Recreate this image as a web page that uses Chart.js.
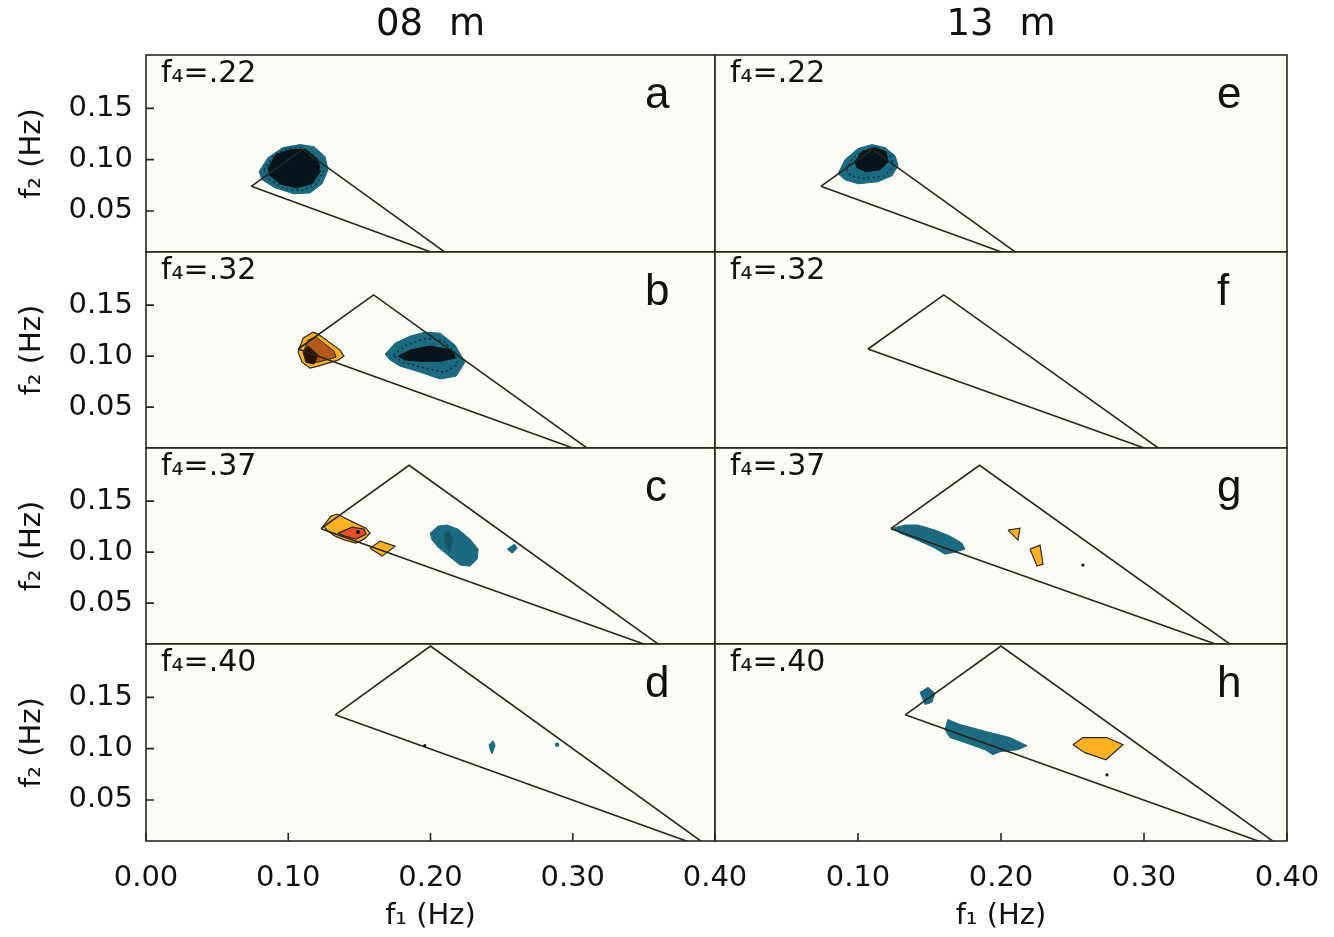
<!DOCTYPE html>
<html><head><meta charset="utf-8">
<script src="https://cdn.jsdelivr.net/npm/chart.js@4.4.0/dist/chart.umd.min.js"></script>
<style>
html,body{margin:0;padding:0;background:#fff;width:1334px;height:937px;overflow:hidden;position:relative}
canvas{position:absolute}
</style></head><body>
<script>
// ---------------- DATA ----------------
const columnTitles = ['08 m', '13 m'];
const f4Labels = ['f\u2084=.22', 'f\u2084=.32', 'f\u2084=.37', 'f\u2084=.40'];
const panelLetters = [['a', 'b', 'c', 'd'], ['e', 'f', 'g', 'h']];
const xTickValues = [0.00, 0.10, 0.20, 0.30, 0.40];
const yTickValues = [0.05, 0.10, 0.15];
const xAxisTitle = 'f\u2081 (Hz)';
const yAxisTitle = 'f\u2082 (Hz)';

// triangle outlines [f1, f2]
const triangle22 = [[0.074, 0.074], [0.110, 0.110], [0.220, 0.000]];
const triangle32 = [[0.107, 0.107], [0.160, 0.160], [0.320, 0.000]];
const triangle37 = [[0.123, 0.123], [0.185, 0.185], [0.370, 0.000]];
const triangle40 = [[0.133, 0.133], [0.200, 0.200], [0.400, 0.000]];

// panel a
const aTealOuter = [[0.0795,0.0882],[0.0858,0.1020],[0.0963,0.1118],[0.1083,0.1147],[0.1181,0.1127],[0.1259,0.1029],[0.1280,0.0902],[0.1238,0.0765],[0.1153,0.0676],[0.1041,0.0667],[0.0907,0.0725],[0.0816,0.0804]];
const aTealDotted = [[0.0830,0.0900],[0.0890,0.1030],[0.0990,0.1110],[0.1100,0.1120],[0.1200,0.1015],[0.1250,0.0890],[0.1200,0.0765],[0.1100,0.0700],[0.0980,0.0715],[0.0870,0.0800]];
const aDarkCore = [[0.0858,0.0922],[0.0914,0.1049],[0.1013,0.1098],[0.1125,0.1098],[0.1210,0.1000],[0.1224,0.0882],[0.1167,0.0765],[0.1055,0.0725],[0.0942,0.0765],[0.0872,0.0843]];
// panel b
const bWarmOuter = [[0.1069,0.1039],[0.1104,0.1176],[0.1174,0.1235],[0.1210,0.1216],[0.1364,0.1059],[0.1392,0.1000],[0.1350,0.0961],[0.1210,0.0902],[0.1153,0.0882],[0.1097,0.0941]];
const bWarmMid = [[0.1111,0.1059],[0.1139,0.1157],[0.1195,0.1186],[0.1322,0.1049],[0.1336,0.0990],[0.1210,0.0941],[0.1139,0.0941]];
const bWarmCore = [[0.1104,0.1039],[0.1139,0.1098],[0.1210,0.1010],[0.1181,0.0922],[0.1125,0.0941]];
const bTealOuter = [[0.1681,0.1020],[0.1751,0.1127],[0.1857,0.1196],[0.1962,0.1235],[0.2068,0.1225],[0.2173,0.1108],[0.2243,0.0941],[0.2180,0.0804],[0.2068,0.0775],[0.1927,0.0843],[0.1786,0.0902],[0.1716,0.0961]];
const bTealDotted = [[0.1740,0.1010],[0.1830,0.1110],[0.1960,0.1170],[0.2080,0.1160],[0.2170,0.1040],[0.2190,0.0920],[0.2100,0.0840],[0.1940,0.0890],[0.1800,0.0940]];
const bDarkCore = [[0.1772,0.1000],[0.1857,0.1059],[0.1997,0.1098],[0.2152,0.1059],[0.2173,0.0980],[0.2068,0.0950],[0.1927,0.0950],[0.1822,0.0961]];
// panel c
const cWarmOuter = [[0.1245,0.1255],[0.1301,0.1353],[0.1343,0.1373],[0.1456,0.1294],[0.1547,0.1235],[0.1575,0.1186],[0.1533,0.1127],[0.1477,0.1088],[0.1399,0.1118],[0.1329,0.1157],[0.1280,0.1206]];
const cWarmRed = [[0.1350,0.1186],[0.1449,0.1245],[0.1533,0.1225],[0.1547,0.1176],[0.1477,0.1127],[0.1399,0.1157]];
const cWarmDiamond = [[0.1575,0.1039],[0.1646,0.1108],[0.1751,0.1059],[0.1660,0.0961]];
const cTealOuter = [[0.1997,0.1186],[0.2053,0.1255],[0.2117,0.1265],[0.2194,0.1225],[0.2278,0.1127],[0.2335,0.1029],[0.2328,0.0931],[0.2278,0.0863],[0.2208,0.0873],[0.2138,0.0951],[0.2053,0.1049],[0.2011,0.1118]];
const cTealStreak = [[0.2100,0.1180],[0.2130,0.1215],[0.2155,0.1120],[0.2135,0.1000],[0.2105,0.1060]];
const cTealSmall = [[0.2540,0.1029],[0.2590,0.1078],[0.2610,0.1039],[0.2575,0.0990]];
const cDarkDots = [[0.1490,0.1196]];
// panel d
const dTealDrip = [[0.2412,0.1039],[0.2440,0.1078],[0.2454,0.1029],[0.2433,0.0951],[0.2419,0.0990]];
const dTealDots = [[0.2890,0.1039]];
const dDarkDots = [[0.1960,0.1030]];
// panel e
const eTealOuter = [[0.0860,0.0863],[0.0909,0.1000],[0.1000,0.1108],[0.1098,0.1147],[0.1189,0.1118],[0.1259,0.1039],[0.1280,0.0941],[0.1238,0.0843],[0.1140,0.0784],[0.1000,0.0765],[0.0909,0.0804]];
const eTealDotted = [[0.0920,0.0900],[0.0960,0.1010],[0.1040,0.1090],[0.1140,0.1110],[0.1230,0.1030],[0.1250,0.0930],[0.1180,0.0840],[0.1040,0.0815],[0.0950,0.0840]];
const eDarkCore = [[0.0979,0.0980],[0.1028,0.1078],[0.1119,0.1118],[0.1196,0.1078],[0.1210,0.0980],[0.1154,0.0902],[0.1056,0.0882],[0.0993,0.0922]];
// panel g
const gTealOuter = [[0.1245,0.1235],[0.1329,0.1265],[0.1420,0.1265],[0.1538,0.1216],[0.1643,0.1157],[0.1727,0.1088],[0.1748,0.1029],[0.1678,0.1000],[0.1608,0.0980],[0.1524,0.1049],[0.1399,0.1127],[0.1294,0.1186]];
const gWarmSmall = [[0.2049,0.1216],[0.2133,0.1235],[0.2119,0.1118]];
const gWarmTall = [[0.2203,0.1029],[0.2273,0.1069],[0.2294,0.0882],[0.2252,0.0863]];
const gDarkDots = [[0.2573,0.0873]];
// panel h
const hTealSmall = [[0.1434,0.1549],[0.1490,0.1598],[0.1538,0.1539],[0.1517,0.1451],[0.1469,0.1431]];
const hTealLarge = [[0.1629,0.1284],[0.1713,0.1235],[0.1923,0.1157],[0.2063,0.1108],[0.2182,0.1029],[0.2119,0.0990],[0.1993,0.0971],[0.1944,0.0941],[0.1888,0.0990],[0.1748,0.1059],[0.1643,0.1108],[0.1608,0.1186]];
const hWarm = [[0.2503,0.1039],[0.2573,0.1108],[0.2741,0.1108],[0.2853,0.1039],[0.2734,0.0892],[0.2587,0.0961]];
const hDarkDots = [[0.2741,0.0745]];

// ---------------- STYLES / LAYOUT ----------------
const TEAL = '#1b6a80', TEAL_LINE = '#0e3440', CORE = '#08141c';
const ORANGE = '#fdb022', RED = '#e8502a', BROWN = '#b65a1c', BROWN_CORE = '#2a1408', EDGE = '#2a2a22';
const COL_LEFT = [146, 715], COL_RIGHT = [715, 1287];
const ROW_TOP = [55, 252, 448, 644], ROW_BOTTOM = [252, 448, 644, 841];
const CANVAS_X = [[0, 790], [670, 1370]];
const FONT = '"DejaVu Sans", Verdana, sans-serif';
const FONT2 = '"Liberation Sans", Arial, sans-serif';

function poly(pts, fill, border, bw, order, dash) {
  const d = pts.map(p => ({x: p[0], y: p[1]}));
  d.push({x: pts[0][0], y: pts[0][1]});
  return {data: d, fill: fill ? 'shape' : false, backgroundColor: fill || 'transparent',
    borderColor: border || fill || 'transparent', borderWidth: bw, order: order,
    borderDash: dash || [], pointRadius: 0, tension: 0};
}
function dots(pts, color, r) {
  return {data: pts.map(p => ({x: p[0], y: p[1]})), showLine: false, pointRadius: r,
    pointBackgroundColor: color, pointBorderWidth: 0, order: 0};
}
function tri(pts) { return poly(pts, null, '#26261f', 1.6, 0); }

const panelLayers = [
  [ // left column
    [tri(triangle22), poly(aTealOuter, TEAL, TEAL, 1, 4), poly(aTealDotted, null, TEAL_LINE, 1.6, 3, [2, 3]), poly(aDarkCore, CORE, CORE, 1, 2)],
    [tri(triangle32), poly(bWarmOuter, ORANGE, EDGE, 1.2, 4), poly(bWarmMid, BROWN, EDGE, 1, 3), poly(bWarmCore, BROWN_CORE, BROWN_CORE, 1, 2),
      poly(bTealOuter, TEAL, TEAL, 1, 4), poly(bTealDotted, null, TEAL_LINE, 1.6, 3, [2, 3]), poly(bDarkCore, CORE, CORE, 1, 2)],
    [tri(triangle37), poly(cWarmOuter, ORANGE, EDGE, 1.2, 4), poly(cWarmRed, RED, EDGE, 1.2, 3), poly(cWarmDiamond, ORANGE, EDGE, 1.2, 4),
      dots(cDarkDots, '#111', 2), poly(cTealOuter, TEAL, TEAL, 1, 4), poly(cTealStreak, '#155566', '#155566', 1, 3, [2, 2]),
      poly(cTealSmall, TEAL, TEAL, 1, 4)],
    [tri(triangle40), poly(dTealDrip, TEAL, TEAL, 1, 4), dots(dTealDots, TEAL, 2.2), dots(dDarkDots, '#111', 1.6)]
  ],
  [ // right column
    [tri(triangle22), poly(eTealOuter, TEAL, TEAL, 1, 4), poly(eTealDotted, null, TEAL_LINE, 1.6, 3, [2, 3]), poly(eDarkCore, CORE, CORE, 1, 2)],
    [tri(triangle32)],
    [tri(triangle37), poly(gTealOuter, TEAL, TEAL, 1, 4), poly(gWarmSmall, ORANGE, EDGE, 1.2, 4), poly(gWarmTall, ORANGE, EDGE, 1.2, 4), dots(gDarkDots, '#111', 1.6)],
    [tri(triangle40), poly(hTealSmall, TEAL, TEAL, 1, 4), poly(hTealLarge, TEAL, TEAL, 1, 4), poly(hWarm, ORANGE, EDGE, 1.2, 4), dots(hDarkDots, '#111', 1.6)]
  ]
];

const deco = {
  id: 'deco',
  beforeDraw(chart, args, o) {
    const {ctx, chartArea: a} = chart;
    ctx.save();
    ctx.fillStyle = '#fcfcf6';
    ctx.fillRect(a.left, a.top, a.right - a.left, a.bottom - a.top);
    ctx.restore();
  },
  afterDraw(chart, args, o) {
    const {ctx, chartArea: a, scales} = chart;
    ctx.save();
    ctx.strokeStyle = '#26261f'; ctx.lineWidth = 1.6;
    ctx.strokeRect(a.left, a.top, a.right - a.left, a.bottom - a.top);
    ctx.beginPath();
    if (o.yTicks) for (const v of yTickValues) { const y = scales.y.getPixelForValue(v); ctx.moveTo(a.left, y); ctx.lineTo(a.left + 8, y); }
    if (o.xTicks) for (const v of xTickValues) { const x = scales.x.getPixelForValue(v); ctx.moveTo(x, a.bottom); ctx.lineTo(x, a.bottom - 8); }
    ctx.stroke();
    ctx.fillStyle = '#111';
    ctx.textAlign = 'left'; ctx.textBaseline = 'alphabetic';
    ctx.font = '30px ' + FONT;
    ctx.fillText(o.f4Label, a.left + 15, a.top + 27);
    ctx.font = '44px ' + FONT2;
    ctx.fillText(o.letter, a.right - 70, a.top + 53);
    if (o.colTitle) {
      ctx.font = '37px ' + FONT; ctx.textAlign = 'center'; ctx.textBaseline = 'middle';
      ctx.wordSpacing = '14px';
      ctx.fillText(o.colTitle, (a.left + a.right) / 2, 25);
    }
    ctx.restore();
  }
};

for (let c = 0; c < 2; c++) {
  for (let r = 0; r < 4; r++) {
    const cl = CANVAS_X[c][0], cr = CANVAS_X[c][1];
    const ct = r === 0 ? 0 : ROW_TOP[r] - 40, cb = r === 3 ? 937 : ROW_BOTTOM[r] + 40;
    const cv = document.createElement('canvas');
    cv.width = cr - cl; cv.height = cb - ct;
    cv.style.left = cl + 'px'; cv.style.top = ct + 'px';
    document.body.appendChild(cv);
    new Chart(cv, {
      type: 'line',
      data: {datasets: panelLayers[c][r]},
      plugins: [deco],
      options: {
        responsive: false, animation: false, devicePixelRatio: 1,
        layout: {padding: {left: c === 0 ? 0 : COL_LEFT[1] - cl, right: cr - COL_RIGHT[c], top: ROW_TOP[r] - ct, bottom: r === 3 ? 0 : cb - ROW_BOTTOM[r]}},
        plugins: {legend: {display: false}, tooltip: {enabled: false},
          deco: {f4Label: f4Labels[r], letter: panelLetters[c][r], colTitle: r === 0 ? columnTitles[c] : null, yTicks: c === 0, xTicks: r === 3}},
        elements: {line: {tension: 0}, point: {radius: 0}},
        scales: {
          x: {type: 'linear', min: 0, max: 0.40, display: r === 3,
            grid: {display: false, drawTicks: false}, border: {display: false},
            afterBuildTicks: s => { s.ticks = xTickValues.map(v => ({value: v})); },
            afterFit: s => { if (r === 3) s.height = 937 - ROW_BOTTOM[3]; },
            ticks: {padding: 20, color: '#111', font: {family: FONT, size: 29}, maxRotation: 0,
              callback: v => (c === 1 && v === 0) ? '' : v.toFixed(2)},
            title: {display: true, text: xAxisTitle, color: '#111', font: {family: FONT, size: 29}, padding: {top: 0, bottom: 3}}},
          y: {type: 'linear', min: 0.01, max: 0.202, display: c === 0,
            grid: {display: false, drawTicks: false}, border: {display: false},
            afterBuildTicks: s => { s.ticks = yTickValues.map(v => ({value: v})); },
            afterFit: s => { s.width = COL_LEFT[0] - cl; },
            ticks: {padding: 13, color: '#111', font: {family: FONT, size: 29}, callback: v => v.toFixed(2)},
            title: {display: true, text: yAxisTitle, color: '#111', font: {family: FONT, size: 29}, padding: {top: 15, bottom: 0}}}
        }
      }
    });
  }
}
</script>
</body></html>
